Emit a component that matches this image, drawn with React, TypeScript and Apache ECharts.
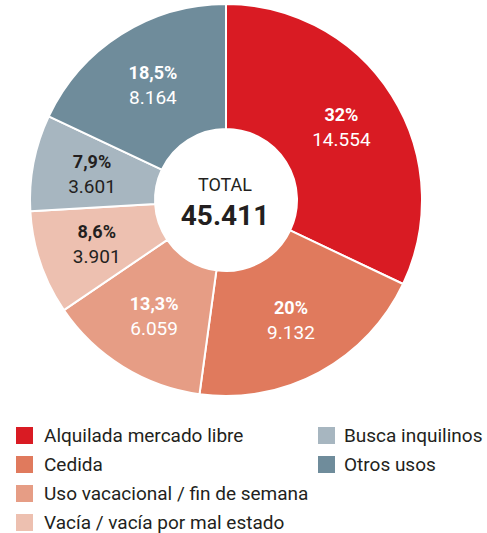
import React, { useEffect, useRef } from "react";
import * as echarts from "echarts";

const categories = [
  "Alquilada mercado libre",
  "Cedida",
  "Uso vacacional / fin de semana",
  "Vacía / vacía por mal estado",
  "Busca inquilinos",
  "Otros usos",
];
const values = [14554, 9132, 6059, 3901, 3601, 8164];
const percentLabels = ["32%", "20%", "13,3%", "8,6%", "7,9%", "18,5%"];
const valueLabels = ["14.554", "9.132", "6.059", "3.901", "3.601", "8.164"];
const colors = ["#d91b23", "#e07a5d", "#e69d85", "#edc0b0", "#a7b6c0", "#6f8c9b"];
const labelColors = ["#ffffff", "#ffffff", "#ffffff", "#231f20", "#231f20", "#ffffff"];
const totalLabel = "TOTAL";
const totalValue = "45.411";
// legend grid: column and row of each category
const legendColumn = [0, 0, 0, 0, 1, 1];
const legendRow = [0, 1, 2, 3, 0, 1];

export default function App() {
  const ref = useRef<HTMLDivElement>(null);
  useEffect(() => {
    if (!ref.current) return;
    const chart = echarts.init(ref.current, null, { renderer: "svg" });
    const font = "Roboto";
    const colLeft = [14, 316];
    const textPad = [5, 3];
    chart.setOption({
      animation: false,
      backgroundColor: "#ffffff",
      color: colors,
      legend: categories.map((c, i) => ({
        orient: "horizontal",
        left: colLeft[legendColumn[i]],
        top: 425 + legendRow[i] * 29,
        padding: 0,
        itemWidth: 19,
        itemHeight: 19,
        icon: "rect",
        selectedMode: false,
        data: [c],
        textStyle: {
          fontFamily: font,
          fontSize: 19,
          lineHeight: 19,
          color: "#231f20",
          padding: [0, 0, 0, textPad[legendColumn[i]]],
        },
      })),
      graphic: [
        {
          type: "text",
          x: 225,
          y: 184,
          style: { text: totalLabel, fontFamily: font, fontSize: 18, fill: "#231f20", textAlign: "center", textVerticalAlign: "middle" },
        },
        {
          type: "text",
          x: 225,
          y: 215,
          style: { text: totalValue, fontFamily: font, fontSize: 28, fontWeight: "bold", fill: "#231f20", textAlign: "center", textVerticalAlign: "middle" },
        },
      ],
      series: [
        {
          type: "pie",
          center: [226, 200],
          radius: [71, 196],
          startAngle: 90,
          clockwise: true,
          silent: true,
          itemStyle: { borderColor: "#ffffff", borderWidth: 2 },
          label: {
            show: true,
            position: "inside",
            formatter: (p: any) => `{p|${percentLabels[p.dataIndex]}}\n{v|${valueLabels[p.dataIndex]}}`,
            rich: {
              p: { fontFamily: font, fontSize: 18, fontWeight: "bold", lineHeight: 25 },
              v: { fontFamily: font, fontSize: 19, lineHeight: 25 },
            },
          },
          labelLine: { show: false },
          data: categories.map((c, i) => ({
            name: c,
            value: values[i],
            label: { color: labelColors[i], rich: { p: { color: labelColors[i] }, v: { color: labelColors[i] } } },
          })),
        },
      ],
    });
    return () => chart.dispose();
  }, []);
  return <div ref={ref} style={{ position: "fixed", left: 0, top: 0, width: 487, height: 533 }} />;
}
